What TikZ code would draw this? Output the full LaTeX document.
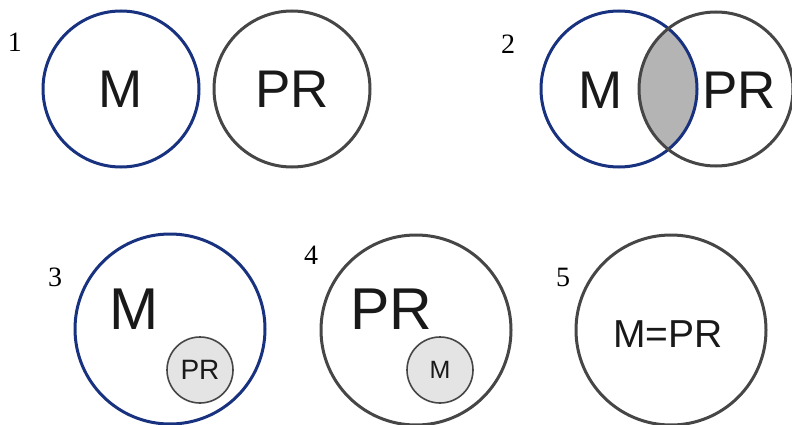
\documentclass[tikz,border=0pt]{standalone}
\usepackage{fontspec}
\setmainfont{Liberation Serif}
\newfontfamily\arialfont{Liberation Sans}
\definecolor{mblue}{RGB}{24,50,128}
\definecolor{prgrey}{RGB}{70,70,70}
\definecolor{lensgrey}{RGB}{180,180,180}
\definecolor{subfill}{RGB}{228,228,228}
\definecolor{ink}{RGB}{25,25,25}

\begin{document}
\begin{tikzpicture}[x=1pt, y=-1pt,
  mset/.style = {draw=mblue, line width=3pt, circle, inner sep=0pt, minimum size=156pt},
  prset/.style = {draw=prgrey, line width=3pt, circle, inner sep=0pt, minimum size=156pt},
  big/.style = {minimum size=190pt},
  sub/.style = {draw=prgrey, line width=1.6pt, fill=subfill, circle, inner sep=0pt, minimum size=66pt},
  num/.style = {font=\fontsize{28}{30}\selectfont},
  txt/.style = {text=ink, inner sep=0pt}]
\clip (0,0) rectangle (792,425);

% 1
\node[num] (n1) at (15,42) {1};
\node[mset] (m1) at (121,89) {};
\node[prset] (p1) at (292,89) {};
\node[txt, font=\arialfont\fontsize{53}{53}\selectfont] (tm1) at (m1) {M};
\node[txt, font=\arialfont\fontsize{53}{53}\selectfont] (tp1) at (p1) {PR};

% 2
\node[num] (n2) at (508,44) {2};
\begin{scope}
  \clip (619,89) circle (78);
  \fill[lensgrey] (716,89) circle (77);
\end{scope}
\node[mset] (m2) at (619,89) {};
\node[prset, minimum size=154pt] (p2) at (716,89) {};
\node[txt, font=\arialfont\fontsize{53}{53}\selectfont] (tm2) at (601,90) {M};
\node[txt, font=\arialfont\fontsize{53}{53}\selectfont] (tp2) at (739,90) {PR};

% 3
\node[num] (n3) at (55,277) {3};
\node[mset, big] (m3) at (170,329) {};
\node[txt, font=\arialfont\fontsize{59}{59}\selectfont] (tm3) at (134,309) {M};
\node[sub, txt, font=\arialfont\fontsize{28}{28}\selectfont] (p3) at (200,370) {PR};

% 4
\node[num] (n4) at (311,255) {4};
\node[prset, big] (p4) at (416,330) {};
\node[txt, font=\arialfont\fontsize{59}{59}\selectfont] (tp4) at (391,309) {PR};
\node[sub, txt, font=\arialfont\fontsize{25}{25}\selectfont] (m4) at (440,370) {M};

% 5
\node[num] (n5) at (563,277) {5};
\node[prset, big] (mp5) at (671,330) {};
\node[txt, font=\arialfont\fontsize{39}{39}\selectfont] (tmp5) at (668,334) {M=PR};
\end{tikzpicture}
\end{document}
